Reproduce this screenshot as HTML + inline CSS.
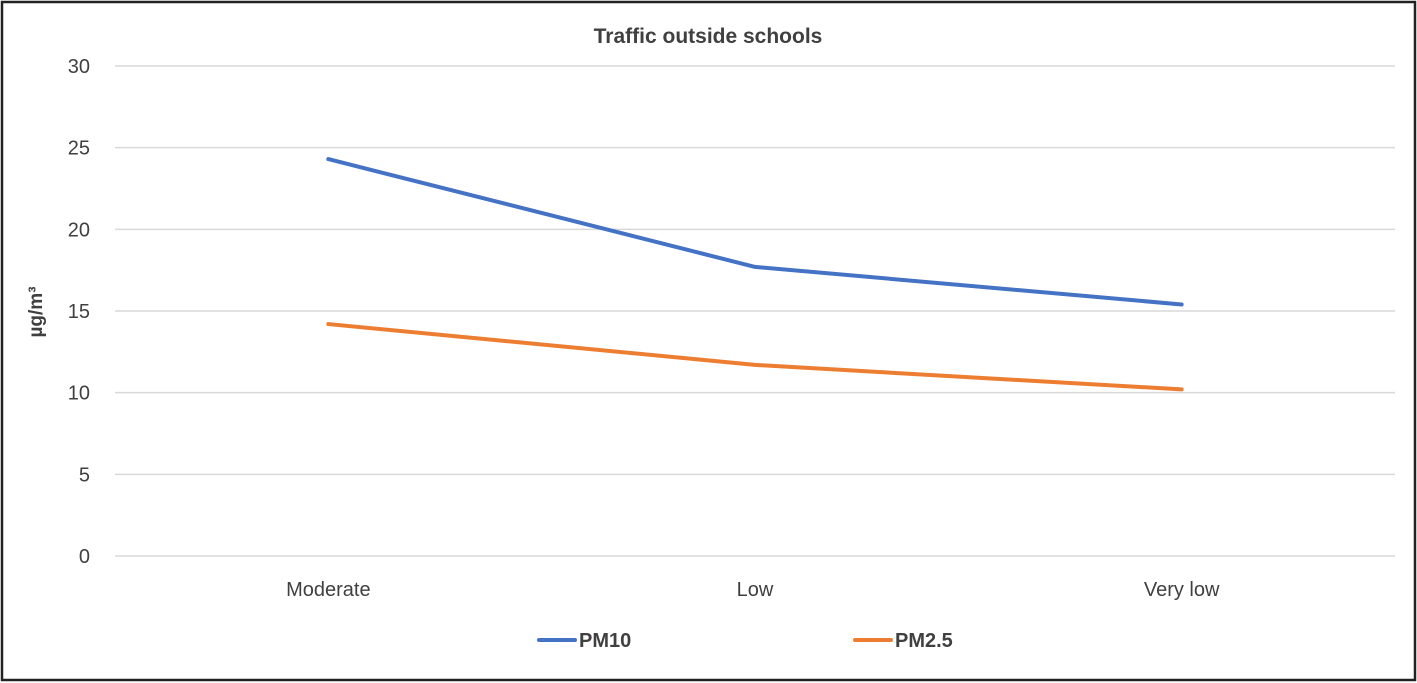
<!DOCTYPE html>
<html><head><meta charset="utf-8"><style>
html,body{margin:0;padding:0;background:#fff;}
svg{display:block;font-family:"Liberation Sans",sans-serif;}
</style></head><body>
<svg id="chart" width="1417" height="683" viewBox="0 0 1417 683">
<rect x="2" y="2" width="1413" height="678" fill="#fff" stroke="#222" stroke-width="2.5"/>
<text x="708" y="43" text-anchor="middle" font-size="21" font-weight="bold" fill="#404040">Traffic outside schools</text>
<text transform="translate(42,312) rotate(-90)" text-anchor="middle" font-size="19" font-weight="bold" fill="#404040">µg/m³</text>
<g id="grid"></g><g id="lines"></g>
<g>
<line x1="539" y1="640" x2="575" y2="640" stroke="#4472C4" stroke-width="4" stroke-linecap="round"/>
<text x="579" y="647" font-size="20" font-weight="bold" fill="#404040">PM10</text>
<line x1="855" y1="640" x2="891" y2="640" stroke="#ED7D31" stroke-width="4" stroke-linecap="round"/>
<text x="895" y="647" font-size="20" font-weight="bold" fill="#404040">PM2.5</text>
</g>
</svg>
<script>
const categories = ["Moderate", "Low", "Very low"];
const pm10 = [24.3, 17.7, 15.4];
const pm25 = [14.2, 11.7, 10.2];
const yTicks = [0, 5, 10, 15, 20, 25, 30];
const NS = "http://www.w3.org/2000/svg";
const plotLeft = 115, plotRight = 1395, plotTop = 66, plotBottom = 556, yMax = 30;
const yScale = v => plotBottom - (v / yMax) * (plotBottom - plotTop);
const band = (plotRight - plotLeft) / categories.length;
const xScale = i => plotLeft + band * (i + 0.5);
const grid = document.getElementById("grid");
yTicks.forEach(t => {
  const l = document.createElementNS(NS, "line");
  l.setAttribute("x1", plotLeft); l.setAttribute("x2", plotRight);
  l.setAttribute("y1", yScale(t)); l.setAttribute("y2", yScale(t));
  l.setAttribute("stroke", "#d9d9d9"); l.setAttribute("stroke-width", "1.5");
  
  
  grid.appendChild(l);
  const tx = document.createElementNS(NS, "text");
  tx.setAttribute("x", 90); tx.setAttribute("y", yScale(t) + 7);
  tx.setAttribute("text-anchor", "end"); tx.setAttribute("font-size", "20"); tx.setAttribute("fill", "#404040");
  tx.textContent = t;
  
  
  grid.appendChild(tx);
});
categories.forEach((c, i) => {
  const tx = document.createElementNS(NS, "text");
  tx.setAttribute("x", xScale(i)); tx.setAttribute("y", 596);
  tx.setAttribute("text-anchor", "middle"); tx.setAttribute("font-size", "20"); tx.setAttribute("fill", "#404040");
  tx.textContent = c;
  
  
  grid.appendChild(tx);
});
const linesG = document.getElementById("lines");
[[pm10, "#4472C4", "pm10-line"], [pm25, "#ED7D31", "pm25-line"]].forEach(([vals, col, name]) => {
  const p = document.createElementNS(NS, "polyline");
  p.setAttribute("points", vals.map((v, i) => xScale(i) + "," + yScale(v)).join(" "));
  p.setAttribute("fill", "none"); p.setAttribute("stroke", col); p.setAttribute("stroke-width", "4");
  p.setAttribute("stroke-linecap", "round"); p.setAttribute("stroke-linejoin", "round");
  
  
  linesG.appendChild(p);
});
</script>
</body></html>
